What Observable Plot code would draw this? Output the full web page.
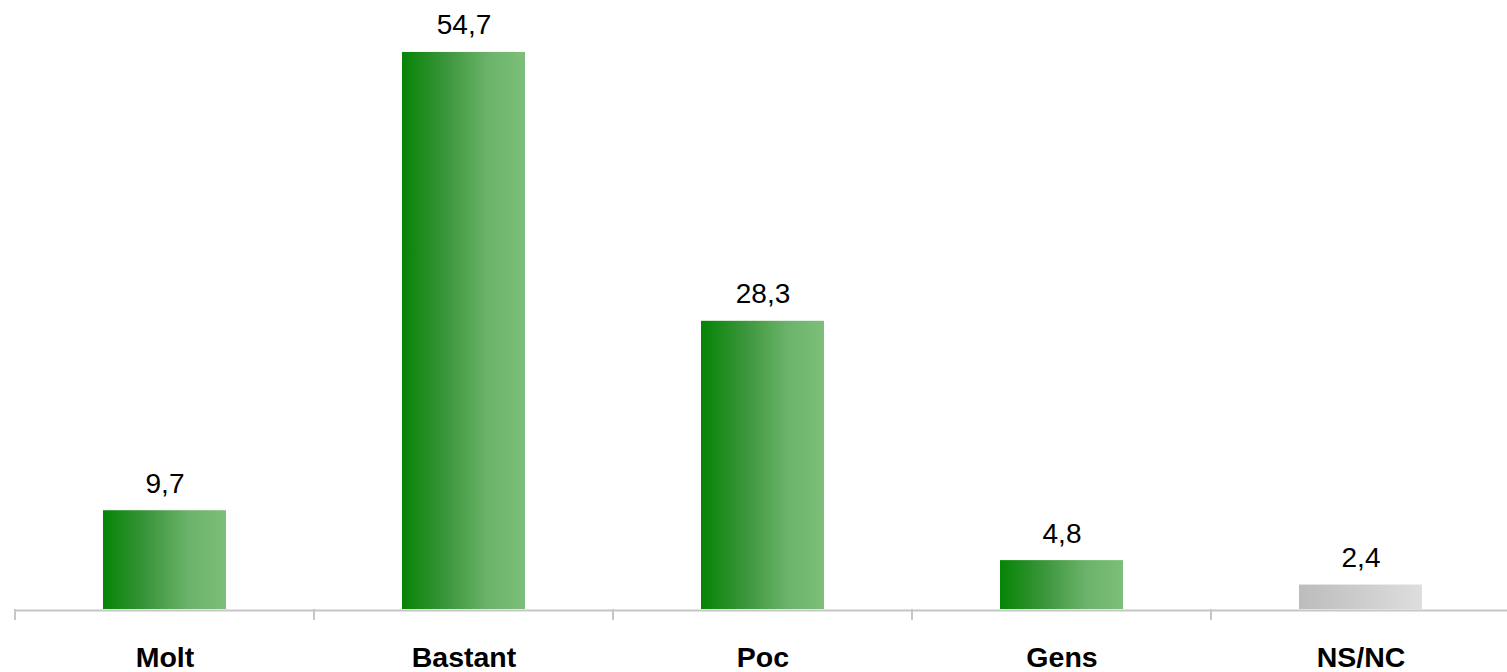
<!DOCTYPE html>
<html>
<head>
<meta charset="utf-8">
<script src="https://cdn.jsdelivr.net/npm/d3@7"></script>
<script src="https://cdn.jsdelivr.net/npm/@observablehq/plot@0.6"></script>
<style>
  html, body { margin: 0; padding: 0; background: #fff; overflow: hidden; }
  #chart svg { display: block; }
</style>
</head>
<body>
<div id="chart"></div>
<script>
const categories = ["Molt", "Bastant", "Poc", "Gens", "NS/NC"];
const values = [9.7, 54.7, 28.3, 4.8, 2.4];
const labels = ["9,7", "54,7", "28,3", "4,8", "2,4"];
const gradients = ["url(#gGreen)", "url(#gGreen)", "url(#gGreen)", "url(#gGreen)", "url(#gGray)"];

const data = categories.map((c, i) => ({cat: c, value: values[i], label: labels[i], fill: gradients[i]}));

const font = "'Liberation Sans', Arial, Helvetica, sans-serif";

const plot = Plot.plot({
  width: 1507,
  height: 672,
  marginLeft: 14,
  marginRight: 0,
  marginTop: 0,
  marginBottom: 63,
  style: {fontFamily: font, background: "#fff"},
  x: {domain: categories, range: [14, 1511], paddingInner: 0.59, paddingOuter: 0.295, label: null},
  y: {domain: [0, 59.8], axis: null},
  color: {type: "identity"},
  marks: [
    Plot.barY(data, {x: "cat", y: "value", fill: "fill"}),
    Plot.ruleY([0], {stroke: "#c6c6c6", strokeWidth: 2, dy: 1}),
    Plot.text(data, {x: "cat", y: "value", text: "label", dy: -18, lineAnchor: "bottom",
      fontSize: 28, fill: "#000"}),
    Plot.axisX({tickSize: 0, tickPadding: 37, fontSize: 28.5, fontWeight: "bold", fill: "#000", label: null})
  ]
});

const svg = d3.select(plot);
const defs = svg.insert("defs", ":first-child");
const g1 = defs.append("linearGradient").attr("id", "gGreen").attr("x1", 0).attr("x2", 1).attr("y1", 0).attr("y2", 0);
g1.append("stop").attr("offset", "0%").attr("stop-color", "#058405");
g1.append("stop").attr("offset", "35%").attr("stop-color", "#3a953a");
g1.append("stop").attr("offset", "70%").attr("stop-color", "#6bb36a");
g1.append("stop").attr("offset", "100%").attr("stop-color", "#7cbf7a");
const g2 = defs.append("linearGradient").attr("id", "gGray").attr("x1", 0).attr("x2", 1).attr("y1", 0).attr("y2", 0);
g2.append("stop").attr("offset", "0%").attr("stop-color", "#bcbcbc");
g2.append("stop").attr("offset", "100%").attr("stop-color", "#dedede");

// boundary ticks between categories, derived from the x band scale
const xs = plot.scale("x");
const ys = plot.scale("y");
const half = (xs.step - xs.bandwidth) / 2;
const x0 = xs.apply(categories[0]) - half;
const boundaries = d3.range(categories.length + 1).map(i => x0 + i * xs.step);
const yb = ys.apply(0);
svg.append("g").selectAll("line").data(boundaries).join("line")
  .attr("x1", d => d).attr("x2", d => d)
  .attr("y1", yb).attr("y2", yb + 11)
  .attr("stroke", "#c6c6c6").attr("stroke-width", 2);

document.getElementById("chart").appendChild(plot);
</script>
</body>
</html>
